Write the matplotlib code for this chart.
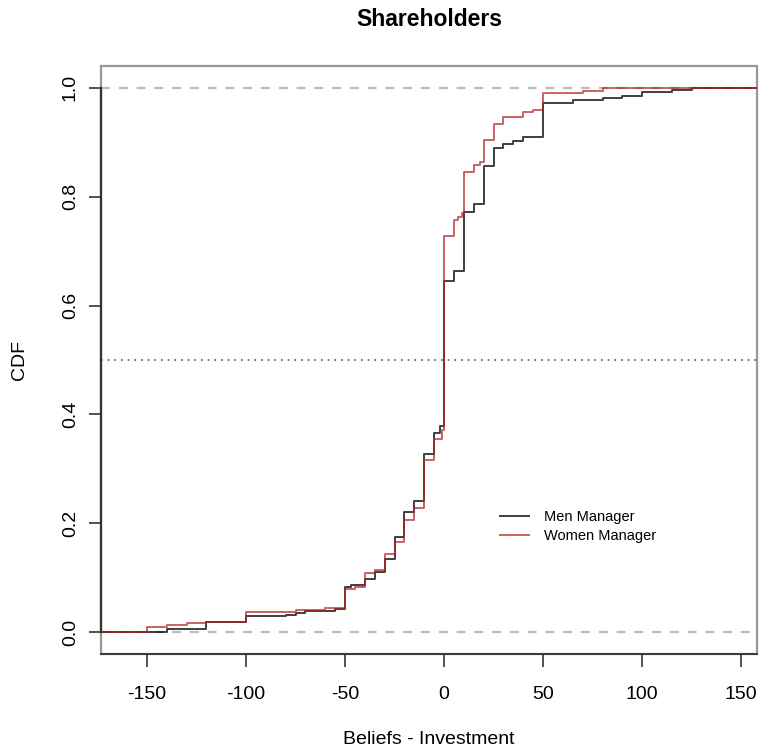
import matplotlib
matplotlib.use("Agg")
import matplotlib.pyplot as plt
from matplotlib.patches import Rectangle

plt.rcParams['font.family'] = ['Liberation Sans', 'DejaVu Sans']

# ECDF step positions (x) and CDF level after each step
men_x = [-175, -140, -120, -100, -80, -75, -70, -55, -50, -47, -40, -35, -30, -25,
         -20, -15, -10, -5, -2, 0, 5, 10, 15, 20, 25, 30, 35, 40, 50, 65, 80, 90,
         100, 115, 125, 160]
men_y = [0.0, 0.006, 0.019, 0.029, 0.032, 0.036, 0.039, 0.042, 0.083, 0.087, 0.097,
         0.110, 0.134, 0.174, 0.220, 0.241, 0.327, 0.366, 0.379, 0.646, 0.664, 0.771,
         0.787, 0.857, 0.889, 0.897, 0.903, 0.909, 0.972, 0.977, 0.981, 0.985, 0.992,
         0.996, 1.0, 1.0]

women_x = [-175, -150, -140, -130, -120, -100, -75, -60, -50, -45, -40, -35, -30, -25,
           -20, -15, -10, -5, -1, 0, 5, 7, 9, 10, 15, 18, 20, 25, 30, 40, 45, 50, 70,
           80, 117, 160]
women_y = [0.0, 0.009, 0.013, 0.0165, 0.019, 0.038, 0.040, 0.045, 0.079, 0.083, 0.108,
           0.114, 0.143, 0.165, 0.207, 0.229, 0.317, 0.354, 0.372, 0.727, 0.758, 0.762,
           0.770, 0.846, 0.859, 0.863, 0.905, 0.934, 0.946, 0.955, 0.960, 0.991, 0.995,
           0.999, 1.0, 1.0]

x_ticks = [-150, -100, -50, 0, 50, 100, 150]
y_ticks = [0.0, 0.2, 0.4, 0.6, 0.8, 1.0]

fig = plt.figure(figsize=(7.6, 7.5), dpi=100)
ax = fig.add_axes([101/760, 1-654/750, (757-101)/760, (654-66)/750])

ax.axhline(0, color='#bbbbbb', lw=1.6, ls=(0, (4, 4)), zorder=1)
ax.axhline(1, color='#bbbbbb', lw=1.6, ls=(0, (4, 4)), zorder=1)
ax.axhline(0.5, color='#555555', lw=1.2, ls=(0, (1, 3)), zorder=1)

ax.step(men_x, men_y, where='post', color='black', alpha=0.75, lw=1.4,
        label='Men Manager', zorder=3)
ax.step(women_x, women_y, where='post', color='#b22222', alpha=0.7, lw=1.4,
        label='Women Manager', zorder=3)

ax.set_xlim(-173.2, 158)
ax.set_ylim(-0.04, 1.04)
ax.set_xticks(x_ticks)
ax.set_xticklabels([str(v) for v in x_ticks], fontsize=14)
ax.set_yticks(y_ticks)
ax.set_yticklabels([f"{v:.1f}" for v in y_ticks], fontsize=14, rotation=90, va='center')
ax.tick_params(axis='both', length=9, width=1.2, color='#333333')
ax.tick_params(axis='x', pad=14)
ax.tick_params(axis='y', pad=7)

for s in ['top', 'right']:
    ax.spines[s].set_visible(False)
ax.spines['left'].set_bounds(0, 1)
ax.spines['left'].set_color('#333333')
ax.spines['left'].set_linewidth(1.6)
ax.spines['bottom'].set_color('#333333')
ax.spines['bottom'].set_linewidth(1.3)
ax.add_patch(Rectangle((0, 0), 1, 1, transform=ax.transAxes, fill=False,
                       edgecolor='#999999', lw=1.6, clip_on=False, zorder=0))

ax.set_xlabel('Beliefs - Investment', fontsize=14, labelpad=20)
ax.set_ylabel('CDF', fontsize=14, labelpad=24)
fig.text(429/760, 1-20/750, 'Shareholders', fontsize=16.5, fontweight='bold',
         ha='center', va='center')

leg = ax.legend(loc='upper left', bbox_to_anchor=(392/656, (654-503)/588),
                frameon=False, fontsize=10.5, handlelength=2.0, handletextpad=1.0,
                labelspacing=0.3, borderpad=0)

fig.savefig('out.png', dpi=100)
